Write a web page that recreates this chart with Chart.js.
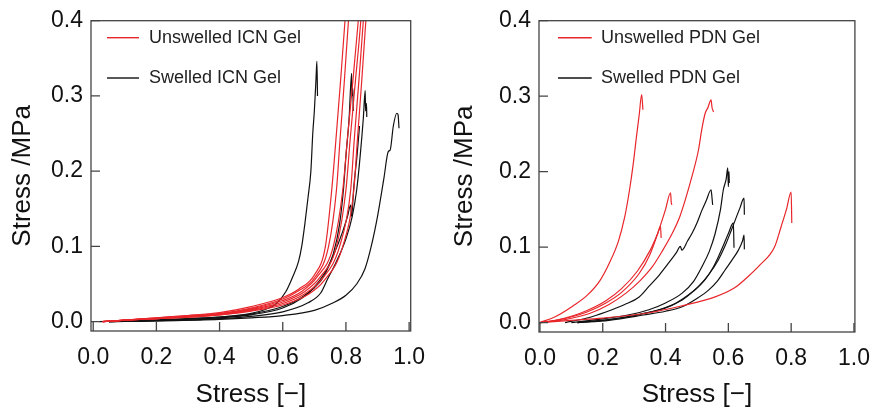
<!DOCTYPE html>
<html>
<head>
<meta charset="utf-8">
<script src="https://cdn.jsdelivr.net/npm/chart.js@4.4.1/dist/chart.umd.min.js"></script>
<style>
  html, body { margin: 0; padding: 0; background: #fff; }
  #wrap { position: relative; width: 875px; height: 410px; }
  #left { position: absolute; left: 0; top: 0; }
  #right { position: absolute; left: 440px; top: 0; }
</style>
</head>
<body>
<div id="wrap">
  <canvas id="left" width="440" height="410"></canvas>
  <canvas id="right" width="435" height="410"></canvas>
</div>
<script>
// --- AXES ---
const xTicks = [0, 0.2, 0.4, 0.6, 0.8, 1.0];
const yTicks = [0, 0.1, 0.2, 0.3, 0.4];
const xTitle = 'Stress [−]';
const yTitle = 'Stress /MPa';

// --- ICN GEL, UNSWELLED (red) --- [strain, stress]
const icnUnswelled1 = [[0.03,0],[0.1,0.002],[0.2,0.005],[0.3,0.008],[0.4,0.012],[0.5,0.020],[0.6,0.032],[0.65,0.043],[0.70,0.062],[0.735,0.10],[0.755,0.175],[0.768,0.24],[0.783,0.32],[0.797,0.40],[0.80,0.42]];
const icnUnswelled2 = [[0.03,0],[0.1,0.002],[0.2,0.005],[0.3,0.008],[0.4,0.011],[0.5,0.018],[0.6,0.030],[0.65,0.041],[0.70,0.058],[0.745,0.10],[0.77,0.175],[0.781,0.24],[0.795,0.32],[0.808,0.40],[0.812,0.42]];
const icnUnswelled3 = [[0.03,0],[0.1,0.002],[0.2,0.004],[0.3,0.007],[0.4,0.010],[0.5,0.017],[0.6,0.028],[0.66,0.040],[0.71,0.060],[0.76,0.10],[0.79,0.175],[0.804,0.24],[0.822,0.32],[0.839,0.40],[0.843,0.42]];
const icnUnswelled4 = [[0.03,0],[0.1,0.002],[0.2,0.004],[0.3,0.007],[0.4,0.010],[0.5,0.016],[0.6,0.026],[0.67,0.040],[0.72,0.060],[0.77,0.10],[0.80,0.175],[0.813,0.24],[0.830,0.32],[0.847,0.40],[0.85,0.42]];
const icnUnswelled5 = [[0.03,0],[0.1,0.002],[0.2,0.004],[0.3,0.006],[0.4,0.009],[0.5,0.015],[0.6,0.024],[0.67,0.037],[0.725,0.057],[0.78,0.10],[0.815,0.175],[0.826,0.24],[0.841,0.32],[0.855,0.40],[0.858,0.42]];
const icnUnswelled6 = [[0.03,0],[0.1,0.002],[0.2,0.004],[0.3,0.006],[0.4,0.009],[0.5,0.014],[0.6,0.022],[0.68,0.036],[0.73,0.054],[0.79,0.10],[0.825,0.175],[0.836,0.24],[0.85,0.32],[0.863,0.40],[0.866,0.42]];

// --- ICN GEL, SWELLED (black) ---
const icnSwelled1 = [[0.02,0],[0.1,0.001],[0.2,0.002],[0.3,0.004],[0.4,0.006],[0.5,0.011],[0.55,0.017],[0.58,0.024],[0.61,0.040],[0.63,0.058],[0.65,0.080],[0.66,0.10],[0.67,0.13],[0.68,0.165],[0.689,0.20],[0.695,0.25],[0.70,0.28],[0.705,0.32],[0.708,0.346],[0.710,0.30]];
const icnSwelled2 = [[0.05,0],[0.2,0.002],[0.4,0.006],[0.5,0.010],[0.6,0.020],[0.66,0.032],[0.70,0.045],[0.73,0.060],[0.76,0.09],[0.78,0.13],[0.792,0.175],[0.80,0.22],[0.81,0.27],[0.818,0.33],[0.819,0.30],[0.822,0.31],[0.823,0.28]];
const icnSwelled3 = [[0.05,0],[0.2,0.001],[0.4,0.004],[0.5,0.007],[0.6,0.013],[0.68,0.025],[0.72,0.038],[0.74,0.055],[0.77,0.08],[0.80,0.11],[0.82,0.14],[0.834,0.175],[0.845,0.22],[0.855,0.27],[0.861,0.307],[0.862,0.28],[0.865,0.29],[0.866,0.272]];
const icnSwelled4 = [[0.05,0],[0.2,0.002],[0.4,0.005],[0.5,0.009],[0.6,0.018],[0.66,0.031],[0.70,0.046],[0.73,0.063],[0.76,0.088],[0.79,0.12],[0.805,0.14],[0.815,0.155],[0.818,0.14],[0.825,0.18],[0.835,0.22],[0.843,0.26]];
const icnSwelled5 = [[0.05,0],[0.2,0.001],[0.4,0.003],[0.5,0.005],[0.6,0.008],[0.7,0.015],[0.76,0.025],[0.80,0.035],[0.834,0.050],[0.86,0.07],[0.88,0.10],[0.90,0.14],[0.92,0.19],[0.934,0.226],[0.94,0.228],[0.95,0.26],[0.961,0.277],[0.965,0.275],[0.968,0.257]];

// --- PDN GEL, UNSWELLED (red) ---
const pdnUnswelled1 = [[0,0],[0.05,0.008],[0.105,0.022],[0.15,0.036],[0.19,0.055],[0.22,0.078],[0.25,0.108],[0.27,0.140],[0.285,0.175],[0.297,0.210],[0.307,0.245],[0.316,0.275],[0.324,0.302],[0.328,0.282]];
const pdnUnswelled2 = [[0,0],[0.05,0.003],[0.105,0.008],[0.15,0.014],[0.21,0.026],[0.26,0.040],[0.316,0.065],[0.35,0.090],[0.379,0.123],[0.40,0.150],[0.416,0.172],[0.418,0.160],[0.42,0.156]];
const pdnUnswelled3 = [[0,0],[0.05,0.003],[0.105,0.009],[0.15,0.016],[0.21,0.029],[0.26,0.045],[0.31,0.068],[0.35,0.095],[0.375,0.118],[0.384,0.127],[0.386,0.112]];
const pdnUnswelled4 = [[0,0],[0.08,0.004],[0.158,0.012],[0.22,0.024],[0.274,0.039],[0.32,0.056],[0.358,0.074],[0.39,0.095],[0.421,0.118],[0.445,0.14],[0.463,0.163],[0.485,0.195],[0.505,0.229],[0.515,0.255],[0.526,0.277],[0.535,0.285],[0.545,0.295],[0.548,0.285],[0.553,0.279]];
const pdnUnswelled5 = [[0,0],[0.1,0.003],[0.2,0.006],[0.347,0.013],[0.45,0.022],[0.558,0.034],[0.62,0.046],[0.663,0.061],[0.70,0.076],[0.747,0.100],[0.768,0.127],[0.785,0.150],[0.80,0.173],[0.802,0.132]];

// --- PDN GEL, SWELLED (black) ---
const pdnSwelled1 = [[0.08,0],[0.15,0.006],[0.21,0.014],[0.27,0.024],[0.316,0.034],[0.347,0.048],[0.38,0.063],[0.41,0.079],[0.435,0.093],[0.447,0.101],[0.452,0.096],[0.47,0.108],[0.484,0.118],[0.50,0.132],[0.516,0.149],[0.53,0.162],[0.545,0.176],[0.548,0.165],[0.55,0.156]];
const pdnSwelled2 = [[0.10,0],[0.2,0.005],[0.28,0.010],[0.347,0.017],[0.40,0.026],[0.453,0.039],[0.49,0.055],[0.516,0.074],[0.54,0.095],[0.558,0.118],[0.575,0.15],[0.584,0.176],[0.593,0.19],[0.598,0.205],[0.60,0.18],[0.602,0.20],[0.603,0.185]];
const pdnSwelled3 = [[0.12,0],[0.22,0.004],[0.32,0.011],[0.41,0.021],[0.46,0.033],[0.505,0.048],[0.54,0.065],[0.568,0.083],[0.59,0.102],[0.61,0.123],[0.637,0.152],[0.65,0.165],[0.651,0.143]];
const pdnSwelled4 = [[0.12,0],[0.22,0.004],[0.33,0.012],[0.40,0.020],[0.453,0.030],[0.49,0.042],[0.526,0.057],[0.55,0.072],[0.568,0.087],[0.585,0.103],[0.60,0.118],[0.616,0.132],[0.618,0.099]];
const pdnSwelled5 = [[0.12,0],[0.22,0.003],[0.33,0.010],[0.40,0.015],[0.453,0.021],[0.50,0.032],[0.537,0.043],[0.565,0.055],[0.59,0.070],[0.612,0.083],[0.632,0.096],[0.645,0.108],[0.65,0.116],[0.651,0.097]];

const RED = '#e8262b';
const BLACK = '#111111';

// frame box, inward ticks and the in-plot legend
const frameLegend = {
    id: 'frameLegend',
    afterDatasetsDraw(chart, args, opts) {
        const { ctx, chartArea: a, scales: { x, y } } = chart;
        ctx.save();
        ctx.strokeStyle = '#444';
        ctx.lineWidth = 1.3;
        ctx.strokeRect(a.left, a.top, a.right - a.left, a.bottom - a.top);
        ctx.beginPath();
        xTicks.forEach(v => {
            const px = x.getPixelForValue(v);
            ctx.moveTo(px, a.bottom); ctx.lineTo(px, a.bottom - 9);
        });
        yTicks.forEach(v => {
            const py = y.getPixelForValue(v);
            ctx.moveTo(a.left, py); ctx.lineTo(a.left + 9, py);
        });
        ctx.stroke();

        // legend: one row for each group (first dataset of the group)
        const rows = chart.data.datasets.filter(d => d.legendRow);
        ctx.font = '18px "Liberation Sans", Arial, sans-serif';
        ctx.textBaseline = 'middle';
        ctx.fillStyle = '#222';
        rows.forEach((d, i) => {
            const ly = opts.rowY[i];
            ctx.strokeStyle = d.borderColor;
            ctx.lineWidth = 1.4;
            ctx.beginPath();
            ctx.moveTo(a.left + opts.lineFrom, ly); ctx.lineTo(a.left + opts.lineTo, ly);
            ctx.stroke();
            ctx.fillText(d.label, a.left + opts.textAt, ly);
        });
        ctx.restore();
    }
};

const makeChart = (id, groups, L) => {
    const datasets = [];
    groups.forEach(g => g.curves.forEach((c, i) => datasets.push({
        label: g.label,
        data: c.map(([sx, sy]) => ({ x: sx, y: sy })),
        borderColor: g.color,
        borderWidth: 1.2,
        pointRadius: 0,
        showLine: true,
        fill: false,
        cubicInterpolationMode: 'monotone',
        legendRow: i === 0
    })));

    const tickFont = { family: '"Liberation Sans", Arial, sans-serif', size: 23 };
    const titleFont = { family: '"Liberation Sans", Arial, sans-serif', size: 26 };

    return new Chart(document.getElementById(id), {
        type: 'scatter',
        data: { datasets },
        plugins: [frameLegend],
        options: {
            responsive: false,
            animation: false,
            layout: { padding: { left: 0, right: L.padRight, top: 20.7, bottom: 0 } },
            plugins: {
                legend: { display: false },
                tooltip: { enabled: false },
                frameLegend: { rowY: [37.7, 78], lineFrom: L.lineFrom, lineTo: L.lineTo, textAt: L.textAt }
            },
            scales: {
                x: {
                    type: 'linear', min: L.xMin, max: L.xMax,
                    afterBuildTicks: s => { s.ticks = xTicks.map(v => ({ value: v })); },
                    afterFit: s => { s.height = L.xHeight; },
                    grid: { display: false },
                    border: { display: false },
                    ticks: { font: tickFont, color: '#111', padding: 5, maxRotation: 0, autoSkip: false,
                             callback: v => v.toFixed(1) },
                    title: { display: true, text: xTitle, font: titleFont, color: '#111', padding: { top: 0, bottom: 0 } }
                },
                y: {
                    type: 'linear', min: -0.0125, max: 0.4,
                    afterBuildTicks: s => { s.ticks = yTicks.map(v => ({ value: v })); },
                    afterFit: s => { s.width = L.yWidth; },
                    grid: { display: false },
                    border: { display: false },
                    ticks: { font: tickFont, color: '#111', padding: 0,
                             callback: v => v.toFixed(1) },
                    title: { display: true, text: yTitle, font: titleFont, color: '#111', padding: { top: L.yTitlePad, bottom: 0 } }
                }
            }
        }
    });
};

makeChart('left', [
    { label: 'Unswelled ICN Gel', color: RED,
      curves: [icnUnswelled1, icnUnswelled2, icnUnswelled3, icnUnswelled4, icnUnswelled5, icnUnswelled6] },
    { label: 'Swelled ICN Gel', color: BLACK,
      curves: [icnSwelled1, icnSwelled2, icnSwelled3, icnSwelled4, icnSwelled5] }
], { xMin: -0.007, xMax: 1.005, padRight: 29.3, yWidth: 91, xHeight: 79, yTitlePad: 7,
     lineFrom: 16, lineTo: 48, textAt: 58 });

makeChart('right', [
    { label: 'Unswelled PDN Gel', color: RED,
      curves: [pdnUnswelled1, pdnUnswelled2, pdnUnswelled3, pdnUnswelled4, pdnUnswelled5] },
    { label: 'Swelled PDN Gel', color: BLACK,
      curves: [pdnSwelled1, pdnSwelled2, pdnSwelled3, pdnSwelled4, pdnSwelled5] }
], { xMin: -0.003, xMax: 1.003, padRight: 17.3, yWidth: 99, xHeight: 78, yTitlePad: 9,
     lineFrom: 19, lineTo: 52.7, textAt: 62 });
</script>
</body>
</html>
